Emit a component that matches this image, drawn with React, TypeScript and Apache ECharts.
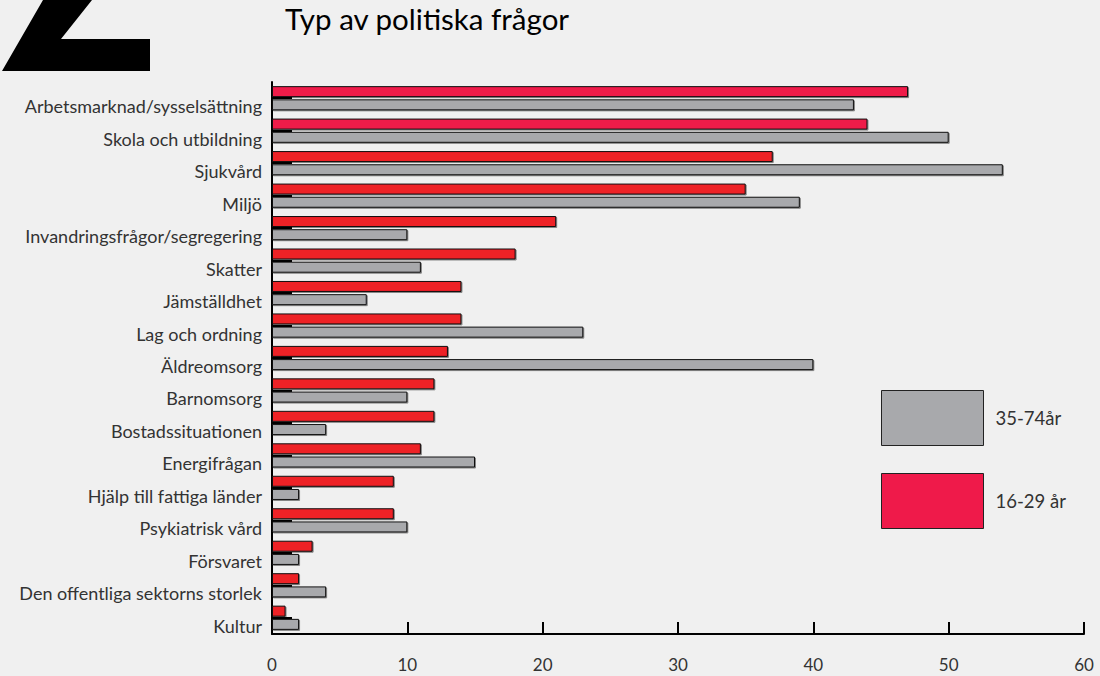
import React, { useEffect, useRef } from "react";
import * as echarts from "echarts";

const categories = [
  "Arbetsmarknad/sysselsättning",
  "Skola och utbildning",
  "Sjukvård",
  "Miljö",
  "Invandringsfrågor/segregering",
  "Skatter",
  "Jämställdhet",
  "Lag och ordning",
  "Äldreomsorg",
  "Barnomsorg",
  "Bostadssituationen",
  "Energifrågan",
  "Hjälp till fattiga länder",
  "Psykiatrisk vård",
  "Försvaret",
  "Den offentliga sektorns storlek",
  "Kultur",
];

const young = [47, 44, 37, 35, 21, 18, 14, 14, 13, 12, 12, 11, 9, 9, 3, 2, 1];
const old = [43, 50, 54, 39, 10, 11, 7, 23, 40, 10, 4, 15, 2, 10, 2, 4, 2];

const seriesNames = ["16-29 år", "35-74år"];
const xTicks = [0, 10, 20, 30, 40, 50, 60];
const title = "Typ av politiska frågor";

const PINK = "#EF1A4A";
const RED = "#EE2027";
const GRAY = "#A8A9AC";
const FONT = "Lato, 'Open Sans', sans-serif";

export default function App() {
  const ref = useRef<HTMLDivElement>(null);
  useEffect(() => {
    if (!ref.current) return;
    const chart = echarts.init(ref.current, null, { renderer: "svg" });
    const barStyle = {
      borderColor: "#111",
      borderWidth: 1,
      shadowColor: "rgba(0,0,0,0.45)",
      shadowOffsetX: 1,
      shadowOffsetY: 1,
      shadowBlur: 0,
    };
    chart.setOption({
      animation: false,
      backgroundColor: "#F0F0F0",
      textStyle: { fontFamily: FONT },
      graphic: [
        {
          type: "polygon",
          shape: {
            points: [
              [43, 0],
              [92, 0],
              [61, 39],
              [150, 39],
              [150, 71],
              [2, 71],
            ],
          },
          style: { fill: "#000" },
        },
        {
          type: "text",
          left: 285,
          top: 3,
          style: {
            text: title,
            fontSize: 29.5,
            fill: "#000",
            fontFamily: FONT,
          },
        },
      ],
      legend: {
        orient: "vertical",
        left: 881,
        top: 390,
        padding: 0,
        itemWidth: 102,
        itemHeight: 55,
        itemGap: 27,
        icon: "rect",
        data: [seriesNames[1], seriesNames[0]],
        itemStyle: { borderColor: "#222", borderWidth: 1 },
        textStyle: {
          fontSize: 18.5,
          color: "#333",
          padding: [14, 0, 0, 7],
          fontFamily: FONT,
        },
        selectedMode: false,
      },
      grid: { left: 272, right: 16, top: 82, bottom: 42, containLabel: false },
      xAxis: {
        type: "value",
        min: 0,
        max: 60,
        interval: 10,
        splitLine: { show: false },
        axisLine: { show: true, lineStyle: { color: "#000", width: 2 } },
        axisTick: { show: true, inside: true, length: 12, lineStyle: { color: "#000", width: 2 } },
        axisLabel: {
          fontSize: 17,
          color: "#333",
          margin: 22,
          lineHeight: 17,
          formatter: (v: number) => (xTicks.includes(v) ? String(v) : ""),
        },
      },
      yAxis: {
        type: "category",
        inverse: true,
        data: categories,
        axisLine: { show: true, lineStyle: { color: "#000", width: 2 } },
        axisTick: {
          show: true,
          inside: true,
          alignWithLabel: true,
          length: 20,
          lineStyle: { color: "#000", width: 2 },
        },
        axisLabel: {
          fontSize: 18,
          color: "#333",
          margin: 10,
          verticalAlign: "top",
          lineHeight: 16,
        },
      },
      series: [
        {
          name: seriesNames[0],
          type: "bar",
          data: young,
          barWidth: 11,
          barGap: "20%",
          color: PINK,
          itemStyle: {
            ...barStyle,
            color: (p: any) => (p.dataIndex < 2 ? PINK : RED),
          },
        },
        {
          name: seriesNames[1],
          type: "bar",
          data: old,
          barWidth: 11,
          barGap: "20%",
          color: GRAY,
          itemStyle: { ...barStyle, color: GRAY },
        },
      ],
    });
    return () => chart.dispose();
  }, []);
  return (
    <div
      ref={ref}
      style={{ position: "fixed", left: 0, top: 0, width: 1100, height: 676 }}
    />
  );
}
